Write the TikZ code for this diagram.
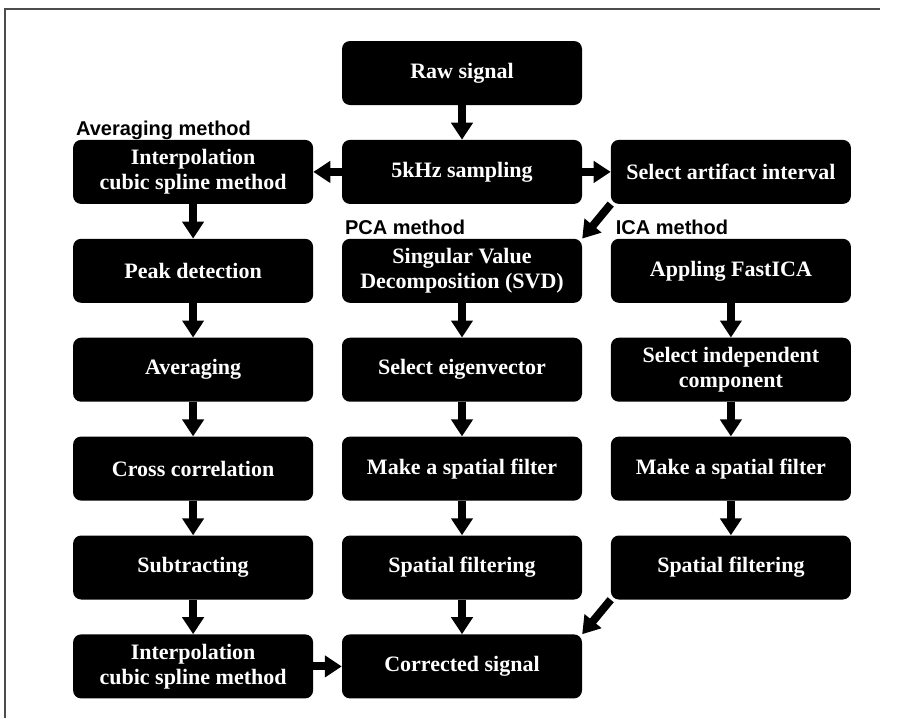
\documentclass[tikz,border=0pt]{standalone}
\usepackage{fontspec}
\setmainfont{Liberation Serif}
\newfontfamily\lblfont{Liberation Sans}
\usetikzlibrary{positioning,arrows.meta}

\begin{document}
\begin{tikzpicture}[x=1pt, y=-1pt,
  box/.style={fill=black, text=white, rounded corners=8pt, minimum width=240pt, minimum height=64pt, align=center, inner sep=2pt, font=\bfseries\fontsize{22}{25}\selectfont},
  lbl/.style={anchor=base west, inner sep=0pt, font=\lblfont\bfseries\fontsize{20}{22}\selectfont},
  arr/.style={line width=8pt, -{Triangle[width=21pt,length=17pt]}},
  node distance=34.5pt and 28.5pt]
\useasboundingbox (0,0) rectangle (901,718);
\draw[gray!60!black, line width=1.2pt] (5,718) -- (5,9) -- (880,9);

\node[box] (raw) at (462,73) {Raw signal};
\node[box, below=of raw] (samp) {5kHz sampling};
\node[box, left=of samp] (interp) {Interpolation\\cubic spline method};
\node[box, right=of samp] (artif) {Select artifact interval};

\node[box, below=of interp] (peak) {Peak detection};
\node[box, below=of peak] (avg) {Averaging};
\node[box, below=of avg] (xcorr) {Cross correlation};
\node[box, below=of xcorr] (subtr) {Subtracting};
\node[box, below=of subtr] (interpb) {Interpolation\\cubic spline method};

\node[box, below=of samp] (svd) {Singular Value\\Decomposition (SVD)};
\node[box, below=of svd] (eig) {Select eigenvector};
\node[box, below=of eig] (mkfilt) {Make a spatial filter};
\node[box, below=of mkfilt] (spfilt) {Spatial filtering};
\node[box, below=of spfilt] (corr) {Corrected signal};

\node[box, below=of artif] (fica) {Appling FastICA};
\node[box, below=of fica] (indep) {Select independent\\component};
\node[box, below=of indep] (mkfiltb) {Make a spatial filter};
\node[box, below=of mkfiltb] (spfiltb) {Spatial filtering};

\node[lbl] (lavg) at ([xshift=3pt,yshift=4pt]interp.north west) {Averaging method};
\node[lbl] (lpca) at ([xshift=3pt,yshift=4pt]svd.north west) {PCA method};
\node[lbl] (lica) at ([xshift=5pt,yshift=4pt]fica.north west) {ICA method};

\draw[arr] (raw) -- (samp);
\draw[arr] (samp) -- (interp);
\draw[arr] (samp) -- (artif);
\draw[arr] (artif.south west) -- (svd.north east);
\draw[arr] (interp) -- (peak);
\draw[arr] (peak) -- (avg);
\draw[arr] (avg) -- (xcorr);
\draw[arr] (xcorr) -- (subtr);
\draw[arr] (subtr) -- (interpb);
\draw[arr] (interpb) -- (corr);
\draw[arr] (svd) -- (eig);
\draw[arr] (eig) -- (mkfilt);
\draw[arr] (mkfilt) -- (spfilt);
\draw[arr] (spfilt) -- (corr);
\draw[arr] (fica) -- (indep);
\draw[arr] (indep) -- (mkfiltb);
\draw[arr] (mkfiltb) -- (spfiltb);
\draw[arr] (spfiltb.south west) -- (corr.north east);
\end{tikzpicture}
\end{document}
